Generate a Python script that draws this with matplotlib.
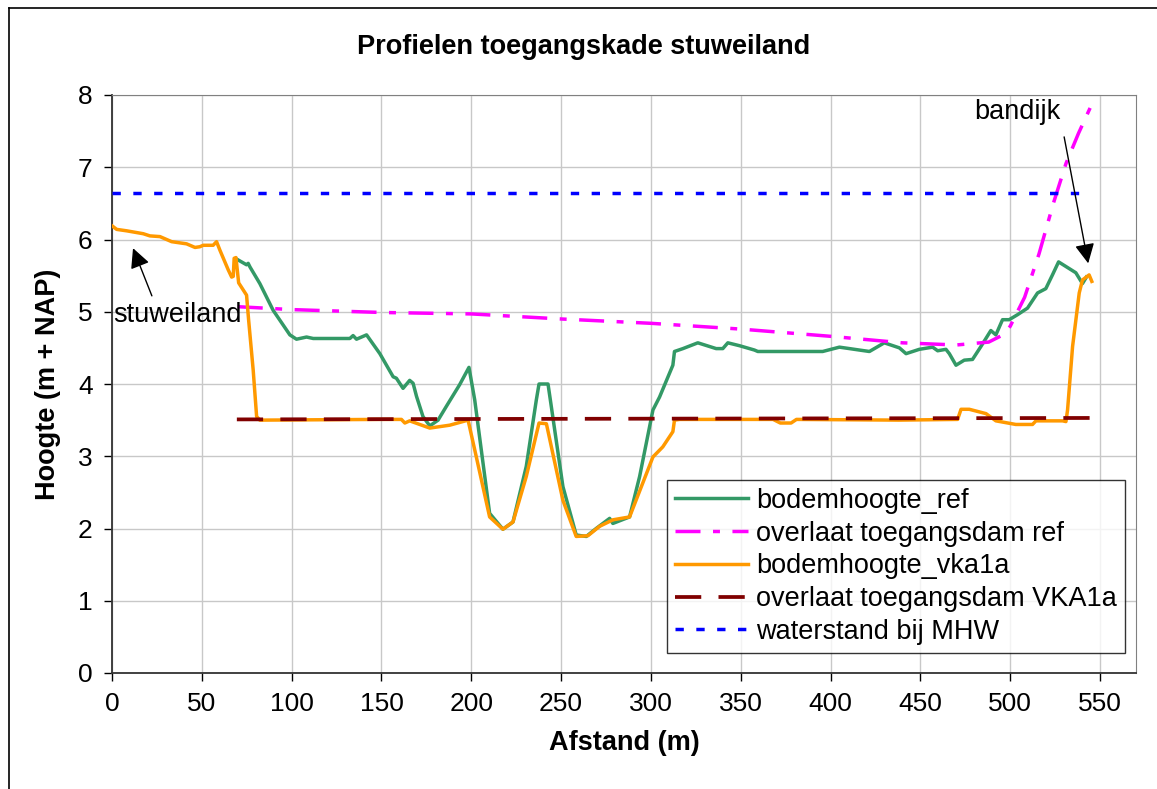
import matplotlib
matplotlib.use('Agg')
import matplotlib.pyplot as plt
from matplotlib.lines import Line2D

plt.rcParams['font.family'] = ['Liberation Sans', 'DejaVu Sans']

# bodemhoogte_ref
ref_x = [69.3, 74.9, 75.8, 76.8, 82.3, 89.7, 99.0, 102.7, 108.3, 112.0, 132.4, 134.2, 136.1, 141.7,
         149.1, 156.5, 158.3, 162.0, 165.7, 167.6, 169.5, 173.1, 176.9, 181.5, 186.1, 193.5, 198.7,
         201.9, 210.2, 217.6, 223.2, 230.6, 236.2, 237.7, 242.7, 244.0, 251.0, 258.4, 264.0, 269.5,
         277.0, 278.8, 288.1, 293.7, 301.1, 304.8, 312.2, 313.1, 317.8, 326.1, 336.3, 340.0, 342.8,
         349.3, 357.6, 359.5, 395.6, 404.9, 410.5, 416.0, 421.6, 429.9, 438.3, 442.0, 449.4, 456.8,
         459.6, 464.2, 466.1, 469.8, 474.4, 479.0, 483.7, 489.2, 492.0, 495.7, 499.4, 504.1, 509.6,
         515.2, 519.8, 523.5, 526.9, 536.5, 540.2, 542.4]
ref_y = [5.73, 5.65, 5.67, 5.62, 5.39, 5.02, 4.68, 4.62, 4.65, 4.63, 4.63, 4.67, 4.62, 4.68,
         4.42, 4.10, 4.08, 3.94, 4.05, 4.01, 3.83, 3.55, 3.42, 3.50, 3.69, 3.99, 4.23,
         3.78, 2.21, 1.99, 2.09, 2.86, 3.78, 4.00, 4.00, 3.78, 2.58, 1.91, 1.89, 2.00,
         2.14, 2.07, 2.16, 2.72, 3.64, 3.82, 4.26, 4.45, 4.49, 4.57, 4.49, 4.49, 4.57,
         4.53, 4.47, 4.45, 4.45, 4.51, 4.49, 4.47, 4.45, 4.57, 4.50, 4.42, 4.48, 4.51,
         4.46, 4.48, 4.42, 4.26, 4.33, 4.34, 4.52, 4.74, 4.68, 4.89, 4.89, 4.96, 5.05,
         5.26, 5.32, 5.51, 5.69, 5.54, 5.39, 5.48]

# overlaat toegangsdam ref
ovl_ref_x = [70, 100, 150, 200, 250, 300, 350, 400, 440, 470, 488, 496, 500, 508, 516, 524, 531, 538, 545]
ovl_ref_y = [5.07, 5.03, 4.99, 4.97, 4.90, 4.84, 4.76, 4.66, 4.57, 4.54, 4.58, 4.68, 4.80, 5.20,
             5.80, 6.50, 7.05, 7.47, 7.85]

# bodemhoogte_vka1a
vka_x = [0.0, 2.6, 8.2, 17.4, 21.1, 26.7, 33.2, 41.5, 46.2, 48.9, 50.8, 56.3, 58.2, 60.1, 64.7,
         66.6, 67.5, 68.0, 69.0, 70.5, 74.9, 76.0, 78.6, 80.5, 82.3, 149.1, 161.1, 163.0, 165.7,
         176.9, 188.0, 198.2, 202.8, 210.2, 217.6, 223.2, 230.6, 237.7, 241.8, 251.0, 258.4, 264.9,
         271.4, 278.8, 288.1, 301.1, 306.6, 312.2, 313.1, 315.9, 368.0, 372.0, 378.0, 381.0, 438.0,
         470.7, 472.6, 477.2, 486.5, 492.0, 503.1, 512.4, 514.3, 529.1, 531.0, 531.9, 534.7, 538.4,
         540.2, 543.9, 545.4]
vka_y = [6.19, 6.14, 6.12, 6.08, 6.05, 6.04, 5.97, 5.94, 5.89, 5.90, 5.92, 5.92, 5.97, 5.85, 5.58,
         5.48, 5.49, 5.74, 5.75, 5.40, 5.23, 4.90, 4.19, 3.55, 3.50, 3.51, 3.51, 3.46, 3.49,
         3.39, 3.43, 3.50, 2.99, 2.16, 1.99, 2.09, 2.72, 3.46, 3.45, 2.39, 1.89, 1.90,
         2.03, 2.12, 2.16, 2.99, 3.13, 3.34, 3.50, 3.51, 3.51, 3.46, 3.46, 3.51, 3.50,
         3.51, 3.65, 3.65, 3.59, 3.49, 3.44, 3.44, 3.49, 3.49, 3.48, 3.64, 4.52, 5.26,
         5.44, 5.51, 5.42]

# overlaat toegangsdam VKA1a
ovl_vka_x = [69.5, 300, 546]
ovl_vka_y = [3.51, 3.52, 3.53]

# waterstand bij MHW
mhw_x = [0, 540]
mhw_y = [6.65, 6.65]

fig = plt.figure(figsize=(11.57, 7.89), dpi=100)
fig.patch.set_facecolor('white')
# rand van het grafiekgebied
fig.add_artist(Line2D([9/1157, 9/1157], [0, 1 - 8/789], color='black', lw=1.2, transform=fig.transFigure))
fig.add_artist(Line2D([9/1157, 1], [1 - 8/789, 1 - 8/789], color='black', lw=1.2, transform=fig.transFigure))

ax = fig.add_axes([112/1157, (789-673)/789, (1136-112)/1157, (673-95)/789])

ax.plot(ref_x, ref_y, color='#339966', lw=2.5, label='bodemhoogte_ref', zorder=3)
ax.plot(ovl_ref_x, ovl_ref_y, color='#FF00FF', lw=2.5, dashes=(7.2, 3.6, 2, 3.6),
        label='overlaat toegangsdam ref', zorder=4)
ax.plot(vka_x, vka_y, color='#FF9900', lw=2.5, label='bodemhoogte_vka1a', zorder=5)
ax.plot(ovl_vka_x, ovl_vka_y, color='#800000', lw=2.7, dashes=(7, 4.6),
        label='overlaat toegangsdam VKA1a', zorder=6)
ax.plot(mhw_x, mhw_y, color='#0000FF', lw=2.5, dashes=(2.4, 3.6),
        label='waterstand bij MHW', zorder=7)

ax.set_xlim(0, 570)
ax.set_ylim(0, 8)
ax.set_xticks(range(0, 551, 50))
ax.set_yticks(range(0, 9))
ax.grid(True, color='#c8c8c8', lw=1)
ax.set_axisbelow(True)
ax.tick_params(direction='out', length=6, width=1, labelsize=19, pad=8)
for s in ['top', 'right']:
    ax.spines[s].set_color('#808080')
for s in ['left', 'bottom']:
    ax.spines[s].set_color('#333333')
    ax.spines[s].set_linewidth(1.3)

fig.text(584/1157, 1 - 47/789, 'Profielen toegangskade stuweiland', fontsize=19.5,
         fontweight='bold', ha='center', va='center')
ax.set_xlabel('Afstand (m)', fontsize=19.5, fontweight='bold', labelpad=10)
ax.set_ylabel('Hoogte (m + NAP)', fontsize=19.5, fontweight='bold', labelpad=12)

ax.text(0.5, 4.96, 'stuweiland', fontsize=19.5, ha='left', va='center', zorder=10)
ax.annotate('', xy=(11.7, 5.88), xytext=(22.2, 5.22),
            arrowprops=dict(arrowstyle='-|>', color='black', lw=1, mutation_scale=30,
                            shrinkA=0, shrinkB=0), zorder=10)
ax.text(504, 7.76, 'bandijk', fontsize=19.5, ha='center', va='center', zorder=10)
ax.annotate('', xy=(543.4, 5.67), xytext=(530, 7.42),
            arrowprops=dict(arrowstyle='-|>', color='black', lw=1, mutation_scale=30,
                            shrinkA=0, shrinkB=0), zorder=10)

leg = ax.legend(loc='lower left', bbox_to_anchor=((667-112)/1024, (673-653)/578),
                fontsize=19.5, frameon=True, fancybox=False, borderaxespad=0,
                handlelength=2.7, handletextpad=0.3, labelspacing=0.25, borderpad=0.3)
leg.get_frame().set_edgecolor('black')
leg.get_frame().set_linewidth(1)
leg.set_zorder(12)

fig.savefig('out.png', dpi=100, facecolor='white')
